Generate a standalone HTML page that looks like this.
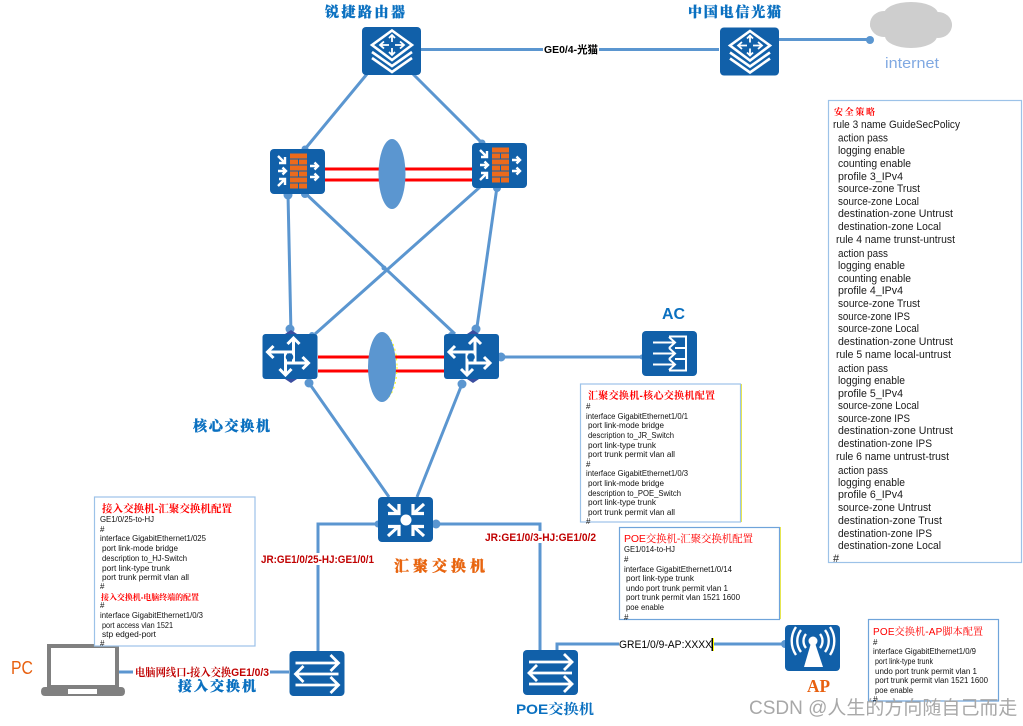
<!DOCTYPE html>
<html><head><meta charset="utf-8">
<style>
html,body{margin:0;padding:0;background:#fff;width:1023px;height:726px;overflow:hidden}
svg{display:block}
text{font-family:"Liberation Sans","Noto Sans CJK SC",sans-serif;white-space:pre}
.c{font-size:11px;fill:#1a1a1a}
.s{font-size:8px;fill:#111}
.h{font-family:"Liberation Serif","Noto Serif CJK SC",serif;font-weight:900;font-size:14px;fill:#0a70c0;stroke:#0a70c0;stroke-width:.3px}
.t{font-family:"Liberation Sans","Noto Serif CJK SC",serif;font-weight:700;fill:#f00;font-size:9px}
.l{stroke:#5b96d0;stroke-width:3;fill:none}
.d{fill:#5b96d0}
.box{fill:#fff;stroke:#9cc2e8;stroke-width:1.2}
</style></head><body>
<svg width="1023" height="726" viewBox="0 0 1023 726" xmlns="http://www.w3.org/2000/svg">
<defs>
<symbol id="router" viewBox="0 0 59 48">
<rect width="59" height="48" rx="4" fill="#1160a9"/>
<g fill="none" stroke="#fff" stroke-width="2.600">
<path d="M10 25 L30 39 L50 25"/><path d="M10 31 L30 45 L50 31"/>
<path d="M30 3.500 L50 18 L30 33 L10 18Z" fill="#1160a9"/>
<path stroke-width="1.800" d="M18 18H27M22 14.500L18 18L22 21.500M33 18H42M38 14.500L42 18L38 21.500M30 8V15M27 11L30 8L33 11M30 21V28M27 25L30 28L33 25"/>
</g></symbol>
<symbol id="fw" viewBox="0 0 55 45">
<rect width="55" height="45" rx="4" fill="#1160a9"/>
<g fill="#ec6a1c">
<rect x="20" y="4.500" width="17" height="5"/><rect x="20" y="10.500" width="8" height="5"/><rect x="29" y="10.500" width="8" height="5"/>
<rect x="20" y="16.500" width="17" height="5"/><rect x="20" y="22.500" width="8" height="5"/><rect x="29" y="22.500" width="8" height="5"/>
<rect x="20" y="28.500" width="17" height="5"/><rect x="20" y="34.500" width="8" height="5"/><rect x="29" y="34.500" width="8" height="5"/>
</g>
<g stroke="#fff" stroke-width="2.400" fill="none">
<path d="M8 7L15 14M15 8V14H9"/><path d="M8 22H16M12.500 18.500L16 22L12.500 25.500"/><path d="M8 37L15 30M9 30H15V36"/>
<path d="M40 17H48M44.500 13.500L48 17L44.500 20.500"/><path d="M40 28H48M44.500 24.500L48 28L44.500 31.500"/>
</g></symbol>
<symbol id="core" viewBox="0 0 55 45">
<rect width="55" height="45" rx="3" fill="#1160a9"/>
<g fill="none" stroke="#fff" stroke-width="3">
<path d="M31 28V4M25 10L31 4L37 10"/><path d="M32 18H5M11 12L5 18L11 24"/>
<path d="M23 17V41M17 35L23 41L29 35"/><path d="M22 29H46M40 23L46 29L40 35"/>
</g><circle cx="27" cy="23" r="3.800" fill="#1160a9"/></symbol>
<symbol id="hub" viewBox="0 0 55 45">
<rect width="55" height="45" rx="4" fill="#1160a9"/>
<circle cx="28" cy="23" r="5.500" fill="#fff"/>
<g fill="none" stroke="#fff" stroke-width="3.200">
<path d="M10 7L21 17M10 16.500H21V7"/><path d="M46 7L35 17M46 16.500H35V7"/>
<path d="M10 39L21 29M10 29.500H21V39"/><path d="M46 39L35 29M46 29.500H35V39"/>
</g></symbol>
<symbol id="sw" viewBox="0 0 55 45">
<rect width="55" height="45" rx="4" fill="#1160a9"/>
<g fill="none" stroke="#fff" stroke-width="2.800">
<path d="M6 12H48M41 4L49 12L41 20"/><path d="M49 23H7M14 15L6 23L14 31"/><path d="M6 34H48M41 26L49 34L41 42"/>
</g></symbol>
<symbol id="ac" viewBox="0 0 55 45">
<rect width="55" height="45" rx="4" fill="#1160a9"/>
<g fill="none" stroke="#fff" stroke-width="2">
<path d="M27 5.500H44V39.500H27"/><path d="M11 11.500H33M27 6L33 11.500L27 17"/><path d="M11 22.500H33M27 17L33 22.500L27 28"/><path d="M11 33.500H33M27 28L33 33.500L27 39"/><path d="M33 17H44M33 28H44"/>
</g></symbol>
<symbol id="ap" viewBox="0 0 55 46">
<rect width="55" height="46" rx="4" fill="#1160a9"/>
<circle cx="28" cy="16" r="4.500" fill="#fff"/><path d="M26 18H30L38 42H19Z" fill="#fff"/>
<g fill="none" stroke="#fff" stroke-width="2.400"><path d="M21 9A11 11 0 0 0 21 23M35 9A11 11 0 0 1 35 23"/><path d="M16 5A18 18 0 0 0 16 27M40 5A18 18 0 0 1 40 27"/><path d="M11 2A25 25 0 0 0 11 30M45 2A25 25 0 0 1 45 30"/></g>
</symbol>
</defs>

<!-- connectors -->
<path class="l" d="M421 49.500H719"/>
<path class="l" d="M779 39.500H870"/><circle class="d" cx="870" cy="40" r="4"/>
<path class="l" d="M367 74L305 149M413 74L482 143"/>
<path class="l" d="M288 194L291 334M305 193L455 334M480 187L315 334M497 187L476 334"/>
<circle class="d" cx="288" cy="195" r="4.500"/><circle class="d" cx="305" cy="194" r="4"/><circle class="d" cx="305" cy="149" r="3.500"/><circle class="d" cx="482" cy="143" r="3.500"/><circle class="d" cx="497" cy="188" r="4"/>
<circle class="d" cx="290" cy="329" r="4.500"/><circle class="d" cx="476" cy="329" r="4.500"/><circle class="d" cx="312" cy="335" r="3"/><circle class="d" cx="451" cy="335" r="3"/>
<circle cx="384" cy="268" r="2.500" class="d"/>
<path d="M285 334L291 330L297 334ZM285 379H297L291 383ZM467 334L473 330L479 334ZM467 379H479L473 383Z" fill="#3b4ea0"/>
<path class="l" d="M309 383L389 497M462 384L417 497"/>
<circle class="d" cx="309" cy="383" r="4.500"/><circle class="d" cx="462" cy="384" r="4.500"/>
<path class="l" d="M499 357H642"/><circle class="d" cx="501" cy="357" r="4.500"/><circle class="d" cx="642" cy="357" r="2.500"/>
<path class="l" d="M378 524H318V651"/><circle class="d" cx="378" cy="524" r="3.500"/>
<path class="l" d="M433 524H540V650"/><circle class="d" cx="436" cy="524" r="4.500"/>
<path class="l" d="M557 650V644H785"/><circle class="d" cx="785" cy="644" r="4"/>
<path class="l" d="M119 672H289"/>

<!-- red links -->
<g stroke="#f00" stroke-width="3" fill="none">
<path d="M325 169H472M325 180H472"/>
<path d="M318 357H444M318 371H444"/>
</g>
<ellipse cx="392" cy="174" rx="13.500" ry="35" fill="#5b96d0"/>
<ellipse cx="383" cy="367" rx="14" ry="33" fill="none" stroke="#ffff00" stroke-width="1" stroke-dasharray="2 3"/>
<ellipse cx="382" cy="367" rx="14" ry="35" fill="#5b96d0"/>

<!-- cloud -->
<g fill="#cecece">
<ellipse cx="911" cy="25" rx="41" ry="15"/><ellipse cx="884" cy="24" rx="14" ry="13"/><ellipse cx="938" cy="25" rx="14" ry="13"/><ellipse cx="911" cy="14" rx="27" ry="12"/><ellipse cx="911" cy="36" rx="26" ry="12"/>
</g>

<!-- devices -->
<use href="#router" x="362" y="27" width="59" height="48"/>
<use href="#router" x="720" y="27" width="59" height="49"/>
<use href="#fw" x="270" y="149" width="55" height="45"/>
<use href="#fw" x="472" y="143" width="55" height="45"/>
<use href="#core" x="262" y="334" width="56" height="45"/>
<use href="#core" x="444" y="334" width="55" height="45"/>
<use href="#ac" x="642" y="331" width="55" height="45"/>
<use href="#hub" x="378" y="497" width="55" height="45"/>
<use href="#sw" x="289" y="651" width="56" height="45"/>
<use href="#sw" x="523" y="650" width="55" height="45"/>
<use href="#ap" x="785" y="625" width="55" height="46"/>

<!-- laptop -->
<rect x="49" y="646" width="68" height="41" fill="#fff" stroke="#808080" stroke-width="4"/>
<path d="M45 687H121Q125 687 125 691.500Q125 696 121 696H45Q41 696 41 691.500Q41 687 45 687Z" fill="#808080"/>
<rect x="68" y="689" width="29" height="5" fill="#fff"/>

<!-- headings -->
<text class="h" x="325" y="17" textLength="80">锐捷路由器</text>
<text class="h" x="688" y="17" textLength="93">中国电信光猫</text>
<text class="h" x="193" y="431" textLength="77">核心交换机</text>
<text class="h" x="178" y="691" textLength="78">接入交换机</text>
<text class="h" x="394" y="571" textLength="91" style="fill:#e8650f;stroke:#e8650f;font-size:15px">汇聚交换机</text>
<text x="516" y="714" textLength="78" lengthAdjust="spacingAndGlyphs" style="font-size:14px;font-weight:700;fill:#0a70c0;font-family:'Liberation Sans','Noto Serif CJK SC',serif">POE交换机</text>
<text x="885" y="68" textLength="54" lengthAdjust="spacingAndGlyphs" style="font-size:15px;fill:#80a9e2">internet</text>
<text x="662" y="319" textLength="23" lengthAdjust="spacingAndGlyphs" style="font-size:16px;font-weight:700;fill:#0a70c0">AC</text>
<text x="11" y="674" textLength="22" lengthAdjust="spacingAndGlyphs" style="font-size:18px;fill:#e8600f">PC</text>
<text x="807" y="692" textLength="23" lengthAdjust="spacingAndGlyphs" style="font-size:18px;font-weight:700;fill:#e8600f;font-family:'Liberation Serif',serif">AP</text>

<!-- connector labels -->
<rect x="543" y="43" width="56" height="13" fill="#fff"/>
<text x="544" y="53" textLength="54" lengthAdjust="spacingAndGlyphs" style="font-size:10.500px;font-weight:700;fill:#000">GE0/4-光猫</text>
<rect x="261" y="553" width="113" height="12" fill="#fff"/>
<text x="261" y="563" textLength="113" lengthAdjust="spacingAndGlyphs" style="font-size:11px;font-weight:700;fill:#c00000">JR:GE1/0/25-HJ:GE1/0/1</text>
<rect x="485" y="531" width="111" height="12" fill="#fff"/>
<text x="485" y="541" textLength="111" lengthAdjust="spacingAndGlyphs" style="font-size:11px;font-weight:700;fill:#c00000">JR:GE1/0/3-HJ:GE1/0/2</text>
<rect x="133" y="666" width="137" height="13" fill="#fff"/>
<text x="135" y="676" textLength="134" lengthAdjust="spacingAndGlyphs" style="font-size:11px;font-weight:700;fill:#c00000;font-family:'Liberation Sans','Noto Serif CJK SC',serif">电脑网线口-接入交换GE1/0/3</text>
<rect x="619" y="638" width="93" height="13" fill="#fff"/>
<text x="619" y="648" textLength="93" lengthAdjust="spacingAndGlyphs" style="font-size:11px;fill:#000">GRE1/0/9-AP:XXXX</text>
<rect x="711.500" y="638" width="1.500" height="13" fill="#000"/><rect x="713" y="638" width="1" height="13" fill="#ff0"/>

<!-- security policy -->
<rect class="box" x="828.500" y="100.500" width="193" height="462"/>
<text class="t" x="834" y="115" textLength="41">安全策略</text>
<g class="c">
<text x="833" y="128" textLength="127" lengthAdjust="spacingAndGlyphs">rule 3 name GuideSecPolicy</text>
<text x="838" y="141.500" textLength="50" lengthAdjust="spacingAndGlyphs">action pass</text>
<text x="838" y="154" textLength="67" lengthAdjust="spacingAndGlyphs">logging enable</text>
<text x="838" y="167" textLength="73" lengthAdjust="spacingAndGlyphs">counting enable</text>
<text x="838" y="180" textLength="65" lengthAdjust="spacingAndGlyphs">profile 3_IPv4</text>
<text x="838" y="192" textLength="82" lengthAdjust="spacingAndGlyphs">source-zone Trust</text>
<text x="838" y="205" textLength="81" lengthAdjust="spacingAndGlyphs">source-zone Local</text>
<text x="838" y="217" textLength="115" lengthAdjust="spacingAndGlyphs">destination-zone Untrust</text>
<text x="838" y="230" textLength="103" lengthAdjust="spacingAndGlyphs">destination-zone Local</text>
<text x="836" y="243" textLength="119" lengthAdjust="spacingAndGlyphs">rule 4 name trunst-untrust</text>
<text x="838" y="257" textLength="50" lengthAdjust="spacingAndGlyphs">action pass</text>
<text x="838" y="269" textLength="67" lengthAdjust="spacingAndGlyphs">logging enable</text>
<text x="838" y="282" textLength="73" lengthAdjust="spacingAndGlyphs">counting enable</text>
<text x="838" y="294" textLength="65" lengthAdjust="spacingAndGlyphs">profile 4_IPv4</text>
<text x="838" y="307" textLength="82" lengthAdjust="spacingAndGlyphs">source-zone Trust</text>
<text x="838" y="320" textLength="72" lengthAdjust="spacingAndGlyphs">source-zone IPS</text>
<text x="838" y="332" textLength="81" lengthAdjust="spacingAndGlyphs">source-zone Local</text>
<text x="838" y="345" textLength="115" lengthAdjust="spacingAndGlyphs">destination-zone Untrust</text>
<text x="836" y="358" textLength="115" lengthAdjust="spacingAndGlyphs">rule 5 name local-untrust</text>
<text x="838" y="372" textLength="50" lengthAdjust="spacingAndGlyphs">action pass</text>
<text x="838" y="384" textLength="67" lengthAdjust="spacingAndGlyphs">logging enable</text>
<text x="838" y="397" textLength="65" lengthAdjust="spacingAndGlyphs">profile 5_IPv4</text>
<text x="838" y="409" textLength="81" lengthAdjust="spacingAndGlyphs">source-zone Local</text>
<text x="838" y="422" textLength="72" lengthAdjust="spacingAndGlyphs">source-zone IPS</text>
<text x="838" y="434" textLength="115" lengthAdjust="spacingAndGlyphs">destination-zone Untrust</text>
<text x="838" y="447" textLength="94" lengthAdjust="spacingAndGlyphs">destination-zone IPS</text>
<text x="836" y="460" textLength="113" lengthAdjust="spacingAndGlyphs">rule 6 name untrust-trust</text>
<text x="838" y="474" textLength="50" lengthAdjust="spacingAndGlyphs">action pass</text>
<text x="838" y="486" textLength="67" lengthAdjust="spacingAndGlyphs">logging enable</text>
<text x="838" y="498" textLength="65" lengthAdjust="spacingAndGlyphs">profile 6_IPv4</text>
<text x="838" y="511" textLength="93" lengthAdjust="spacingAndGlyphs">source-zone Untrust</text>
<text x="838" y="524" textLength="104" lengthAdjust="spacingAndGlyphs">destination-zone Trust</text>
<text x="838" y="537" textLength="94" lengthAdjust="spacingAndGlyphs">destination-zone IPS</text>
<text x="838" y="549" textLength="103" lengthAdjust="spacingAndGlyphs">destination-zone Local</text>
<text x="833" y="562">#</text>
</g>

<!-- aggregation-core config -->
<rect class="box" x="580.500" y="384" width="160" height="138"/><path d="M741.500 384V522" stroke="#e6e650"/>
<text class="t" x="588" y="399" textLength="127" style="font-size:10px">汇聚交换机-核心交换机配置</text>
<g class="s">
<text x="586" y="409">#</text>
<text x="586" y="419" textLength="102" lengthAdjust="spacingAndGlyphs">interface GigabitEthernet1/0/1</text>
<text x="588" y="428" textLength="76" lengthAdjust="spacingAndGlyphs">port link-mode bridge</text>
<text x="588" y="438" textLength="86" lengthAdjust="spacingAndGlyphs">description to_JR_Switch</text>
<text x="588" y="448" textLength="68" lengthAdjust="spacingAndGlyphs">port link-type trunk</text>
<text x="588" y="457" textLength="87" lengthAdjust="spacingAndGlyphs">port trunk permit vlan all</text>
<text x="586" y="467">#</text>
<text x="586" y="476" textLength="102" lengthAdjust="spacingAndGlyphs">interface GigabitEthernet1/0/3</text>
<text x="588" y="486" textLength="76" lengthAdjust="spacingAndGlyphs">port link-mode bridge</text>
<text x="588" y="496" textLength="93" lengthAdjust="spacingAndGlyphs">description to_POE_Switch</text>
<text x="588" y="505" textLength="68" lengthAdjust="spacingAndGlyphs">port link-type trunk</text>
<text x="588" y="515" textLength="87" lengthAdjust="spacingAndGlyphs">port trunk permit vlan all</text>
<text x="586" y="524">#</text>
</g>

<!-- POE config -->
<rect x="619.500" y="527.500" width="160" height="92" fill="#fff" stroke="#6fa4da" stroke-width="1.200"/><path d="M780.500 527V619" stroke="#e6e650"/>
<text class="t" x="624" y="542" textLength="129" style="font-size:10.500px;font-weight:400">POE交换机-汇聚交换机配置</text>
<g class="s">
<text x="624" y="552" textLength="51" lengthAdjust="spacingAndGlyphs">GE1/014-to-HJ</text>
<text x="624" y="562">#</text>
<text x="624" y="572" textLength="108" lengthAdjust="spacingAndGlyphs">interface GigabitEthernet1/0/14</text>
<text x="626" y="581" textLength="68" lengthAdjust="spacingAndGlyphs">port link-type trunk</text>
<text x="626" y="591" textLength="102" lengthAdjust="spacingAndGlyphs">undo port trunk permit vlan 1</text>
<text x="626" y="600" textLength="114" lengthAdjust="spacingAndGlyphs">port trunk permit vlan 1521 1600</text>
<text x="626" y="610" textLength="38" lengthAdjust="spacingAndGlyphs">poe enable</text>
<text x="624" y="620">#</text>
</g>

<!-- access config -->
<rect class="box" x="94.500" y="497" width="160.500" height="149"/>
<text class="t" x="102" y="512" textLength="130" style="font-size:10.500px">接入交换机-汇聚交换机配置</text>
<g class="s">
<text x="100" y="522" textLength="54" lengthAdjust="spacingAndGlyphs">GE1/0/25-to-HJ</text>
<text x="100" y="532">#</text>
<text x="100" y="541" textLength="106" lengthAdjust="spacingAndGlyphs">interface GigabitEthernet1/025</text>
<text x="102" y="551" textLength="76" lengthAdjust="spacingAndGlyphs">port link-mode bridge</text>
<text x="102" y="561" textLength="85" lengthAdjust="spacingAndGlyphs">description to_HJ-Switch</text>
<text x="102" y="571" textLength="68" lengthAdjust="spacingAndGlyphs">port link-type trunk</text>
<text x="102" y="580" textLength="87" lengthAdjust="spacingAndGlyphs">port trunk permit vlan all</text>
<text x="100" y="589">#</text>
</g>
<text class="t" x="101" y="600" textLength="98" style="font-size:8px">接入交换机-电脑终端的配置</text>
<g class="s">
<text x="100" y="608">#</text>
<text x="100" y="618" textLength="103" lengthAdjust="spacingAndGlyphs">interface GigabitEthernet1/0/3</text>
<text x="102" y="628" textLength="71" lengthAdjust="spacingAndGlyphs">port access vlan 1521</text>
<text x="102" y="637" textLength="54" lengthAdjust="spacingAndGlyphs">stp edged-port</text>
<text x="100" y="646">#</text>
</g>

<!-- AP config -->
<rect x="868.500" y="619.500" width="130" height="81.500" fill="#fff" stroke="#6fa4da" stroke-width="1.200"/>
<text class="t" x="873" y="635" textLength="110" style="font-size:10px;font-weight:400">POE交换机-AP脚本配置</text>
<g class="s">
<text x="873" y="645">#</text>
<text x="873" y="654" textLength="103" lengthAdjust="spacingAndGlyphs">interface GigabitEthernet1/0/9</text>
<text x="875" y="664" textLength="58" lengthAdjust="spacingAndGlyphs">port link-type trunk</text>
<text x="875" y="674" textLength="102" lengthAdjust="spacingAndGlyphs">undo port trunk permit vlan 1</text>
<text x="875" y="683" textLength="113" lengthAdjust="spacingAndGlyphs">port trunk permit vlan 1521 1600</text>
<text x="875" y="693" textLength="38" lengthAdjust="spacingAndGlyphs">poe enable</text>
<text x="873" y="702">#</text>
</g>

<!-- watermark -->
<text x="749" y="714" style="font-size:19px;fill:#a8a8a8">CSDN @人生的方向随自己而走</text>
</svg>
</body></html>
